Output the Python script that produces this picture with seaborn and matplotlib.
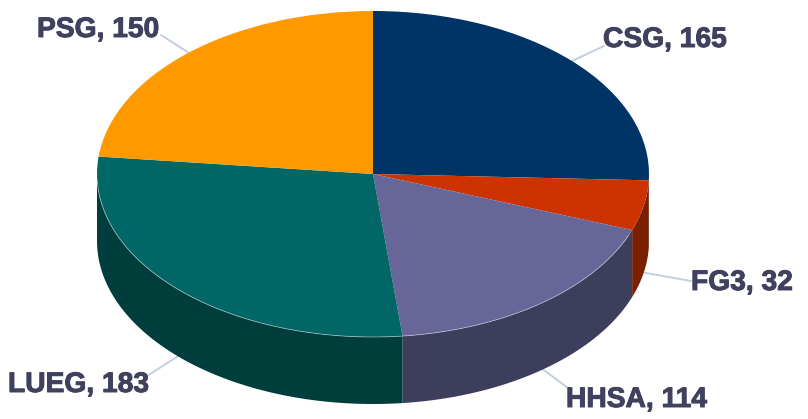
import numpy as np
import matplotlib
matplotlib.use("Agg")
import matplotlib.pyplot as plt
import matplotlib.patheffects as pe
import seaborn as sns

groups = ["CSG", "FG3", "HHSA", "LUEG", "PSG"]
counts = [165, 32, 114, 183, 150]
slice_colors = ["#003366", "#CC3300", "#666699", "#006666", "#FF9900"]
wall_colors = ["#001F3D", "#7A1F00", "#3D3D5C", "#003D3D", "#995C00"]

# Label anchors and leader ends, in figure pixels from the top left
label_anchor = [(603, 40), (691, 283), (566, 400), (8, 385), (37, 30)]
leader_end = [(604, 46), (691, 281), (568, 388), (147, 376), (161, 35)]

W, H = 808, 419
CX, CY, RX, RY, DEPTH = 373, 174, 276, 163, 67

sns.set_theme(style="white", rc={"axes.facecolor": "white", "figure.facecolor": "white"})
plt.rcParams["font.family"] = ["Liberation Sans", "DejaVu Sans"]

fig = plt.figure(figsize=(W / 100, H / 100), dpi=100)
ax = fig.add_axes([0, 0, 1, 1])

wedges, _ = ax.pie(counts, colors=sns.color_palette(slice_colors), startangle=90,
                   counterclock=False, radius=1, wedgeprops={"linewidth": 0})
for wedge in wedges:
    wedge.set_zorder(3)
ax.set_aspect("auto")
ax.set_xlim(-CX / RX, (W - CX) / RX)
ax.set_ylim(-(H - CY) / RY, CY / RY)
ax.axis("off")


def unit_xy(px, py):
    return (px - CX) / RX, (CY - py) / RY


def rim(theta):
    # theta is measured clockwise from twelve o'clock, in degrees
    t = np.radians(theta)
    return np.sin(t), np.cos(t)


depth = DEPTH / RY
edges = np.cumsum([0] + counts) / sum(counts) * 360

# Side wall of the disc: only the front half can be seen
for start, stop, color in zip(edges[:-1], edges[1:], wall_colors):
    lo, hi = max(start, 90), min(stop, 270)
    if hi <= lo:
        continue
    theta = np.linspace(lo, hi, 120)
    x, y = rim(theta)
    ax.fill(np.r_[x, x[::-1]], np.r_[y, y[::-1] - depth], color=color, lw=0, zorder=2)

# Pale highlight along the front edge of the top face
theta = np.linspace(112, 268, 240)
x, y = rim(theta)
ax.plot(x, y, color="#DDE6E6", lw=0.6, alpha=0.55, zorder=4)

# Leaders start on the rim at each slice's middle angle, then the label
middles = (edges[:-1] + edges[1:]) / 2
for name, value, mid, anchor, end in zip(groups, counts, middles, label_anchor, leader_end):
    sx, sy = rim(mid)
    if 90 < mid < 270:
        sy -= depth
    ex, ey = unit_xy(*end)
    ax.plot([sx, ex], [sy, ey], color="#C3CFE0", lw=1.4, zorder=1)
    tx, ty = unit_xy(*anchor)
    label = ax.text(tx, ty, f"{name}, {value}", ha="left", va="center", fontsize=20.3,
                    fontweight="bold", color="#40405F", zorder=5)
    label.set_path_effects([pe.withStroke(linewidth=0.7, foreground="#40405F")])

fig.savefig("out.png", dpi=100)
